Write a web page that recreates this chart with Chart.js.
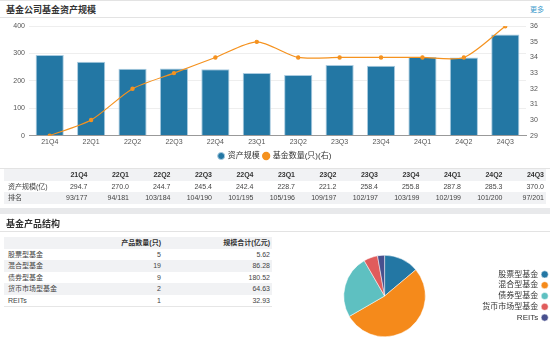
<!DOCTYPE html>
<html>
<head>
  <title>基金公司基金资产规模</title>
  <script src="https://cdn.jsdelivr.net/npm/chart.js"></script>
  <style>
    body { margin: 0; width: 550px; height: 337px; overflow: hidden; background: #fff;
      font-family: "Liberation Sans", "Noto Sans CJK SC", sans-serif; color: #444; position: relative; }
    .abs { position: absolute; }
    .title { left: 6px; font-size: 9px; font-weight: bold; color: #333; }
    .rule { left: 0; width: 550px; height: 1px; background: #e3e3e3; }
    table { border-collapse: collapse; table-layout: fixed; font-size: 7px; }
    td, th { padding: 0 2px 0 0; height: 11.5px; line-height: 11.5px; white-space: nowrap; text-align: right; }
    th { font-weight: bold; color: #333; }
    td.name, th.name { text-align: left; padding-left: 4px; }
    tr.gray { background: #f1f2f4; }
  </style>
</head>
<body>
  <div class="abs rule" style="top:0"></div>
  <div class="abs title" style="top:3px">基金公司基金资产规模</div>
  <div class="abs" style="top:4px;left:530px;font-size:7px;color:#3d9acb">更多</div>
  <div class="abs rule" style="top:17px"></div>

  <div class="abs" style="left:0;top:18px;width:550px;height:152px">
    <canvas id="mainChart"></canvas>
  </div>
  <div class="abs rule" style="top:168px"></div>

  <table id="quarterTable" class="abs" style="left:4px;top:169px;width:542px;background:#fff"></table>

  <div class="abs" style="left:0;top:208px;width:550px;height:6px;background:#e8e9eb"></div>
  <div class="abs title" style="top:217px">基金产品结构</div>
  <div class="abs rule" style="top:231px"></div>

  <table id="productTable" class="abs" style="left:4px;top:237px;width:268px;border-bottom:1px solid #e6e6e6"></table>

  <div class="abs" style="left:297px;top:255px;width:253px;height:82px">
    <canvas id="pieChart"></canvas>
  </div>

  <script>
    // quarterly data
    const quarters = ['21Q4', '22Q1', '22Q2', '22Q3', '22Q4', '23Q1', '23Q2', '23Q3', '23Q4', '24Q1', '24Q2', '24Q3'];
    const assetScale = [294.7, 270.0, 244.7, 245.4, 242.4, 228.7, 221.2, 258.4, 255.8, 287.8, 285.3, 370.0];
    const fundCount = [29, 30, 32, 33, 34, 35, 34, 34, 34, 34, 34, 36];
    const ranking = ['93/177', '94/181', '103/184', '104/190', '101/195', '105/196', '109/197', '102/197', '103/199', '102/199', '101/200', '97/201'];

    // product structure
    const productTypes = ['股票型基金', '混合型基金', '债券型基金', '货币市场型基金', 'REITs'];
    const productCounts = [5, 19, 9, 2, 1];
    const productScale = ['5.62', '86.28', '180.52', '64.63', '32.93'];

    const BLUE = '#2377a4';
    const ORANGE = '#f5921f';
    const pieColors = [BLUE, '#f58a1b', '#5ec0c1', '#e05c5c', '#48508e'];
    const FONT = '"Liberation Sans", "Noto Sans CJK SC", sans-serif';

    Chart.defaults.font.family = FONT;
    Chart.defaults.animation = false;

    new Chart(document.getElementById('mainChart'), {
      type: 'bar',
      data: {
        labels: quarters,
        datasets: [
          {
            label: '资产规模',
            data: assetScale,
            backgroundColor: BLUE,
            borderColor: '#a9cbe0',
            borderWidth: 1,
            barPercentage: 0.68,
            categoryPercentage: 1,
            yAxisID: 'y',
            order: 2
          },
          {
            type: 'line',
            label: '基金数量(只)(右)',
            data: fundCount,
            borderColor: ORANGE,
            backgroundColor: ORANGE,
            borderWidth: 1.2,
            pointRadius: 1.6,
            pointBackgroundColor: ORANGE,
            tension: 0.25,
            yAxisID: 'y1',
            order: 1
          }
        ]
      },
      options: {
        responsive: true,
        maintainAspectRatio: false,
        layout: { padding: { top: 6, left: 0, right: 0, bottom: 0 } },
        plugins: {
          tooltip: { enabled: false },
          legend: {
            position: 'bottom',
            labels: {
              usePointStyle: true,
              pointStyle: 'circle',
              boxWidth: 5,
              boxHeight: 5,
              padding: 4,
              color: '#333',
              font: { size: 8 },
              sort: (a, b) => a.datasetIndex - b.datasetIndex
            }
          }
        },
        scales: {
          x: {
            offset: true,
            grid: { display: false, drawTicks: false },
            border: { color: '#999' },
            ticks: { color: '#555', font: { size: 7 }, padding: 2 }
          },
          y: {
            position: 'left',
            min: 0,
            max: 400,
            ticks: { stepSize: 100, color: '#555', font: { size: 7 }, padding: 4 },
            grid: { color: '#eeeeee', drawTicks: false },
            border: { display: false },
            afterFit(s) { s.width = 29; }
          },
          y1: {
            position: 'right',
            min: 29,
            max: 36,
            ticks: { stepSize: 1, color: '#555', font: { size: 7 }, padding: 4 },
            grid: { drawOnChartArea: false, drawTicks: false },
            border: { display: false },
            afterFit(s) { s.width = 24; }
          }
        }
      }
    });

    // quarter table
    const qt = document.getElementById('quarterTable');
    let html = '<colgroup><col style="width:44px">' + quarters.map(() => '<col>').join('') + '</colgroup>';
    html += '<tr class="gray"><th class="name"></th>' + quarters.map(q => '<th>' + q + '</th>').join('') + '</tr>';
    html += '<tr><td class="name">资产规模(亿)</td>' + assetScale.map(v => '<td>' + v.toFixed(1) + '</td>').join('') + '</tr>';
    html += '<tr class="gray"><td class="name">排名</td>' + ranking.map(v => '<td>' + v + '</td>').join('') + '</tr>';
    qt.innerHTML = html;

    // product table
    const pt = document.getElementById('productTable');
    let ph = '<colgroup><col style="width:90px"><col style="width:69px"><col style="width:109px"></colgroup>';
    ph += '<tr class="gray"><th class="name"></th><th>产品数量(只)</th><th>规模合计(亿元)</th></tr>';
    productTypes.forEach((t, i) => {
      ph += '<tr' + (i % 2 === 1 ? ' class="gray"' : '') + '><td class="name">' + t + '</td><td>' +
        productCounts[i] + '</td><td>' + productScale[i] + '</td></tr>';
    });
    pt.innerHTML = ph;

    new Chart(document.getElementById('pieChart'), {
      type: 'pie',
      data: {
        labels: productTypes,
        datasets: [{
          data: productCounts,
          backgroundColor: pieColors,
          borderColor: '#fff',
          borderWidth: 0.5
        }]
      },
      options: {
        responsive: true,
        maintainAspectRatio: false,
        layout: { padding: 0 },
        plugins: {
          tooltip: { enabled: false },
          legend: {
            position: 'right',
            rtl: true,
            labels: {
              usePointStyle: true,
              pointStyle: 'circle',
              boxWidth: 5,
              boxHeight: 5,
              padding: 2.8,
              color: '#333',
              font: { size: 8 }
            }
          }
        }
      }
    });
  </script>
</body>
</html>
